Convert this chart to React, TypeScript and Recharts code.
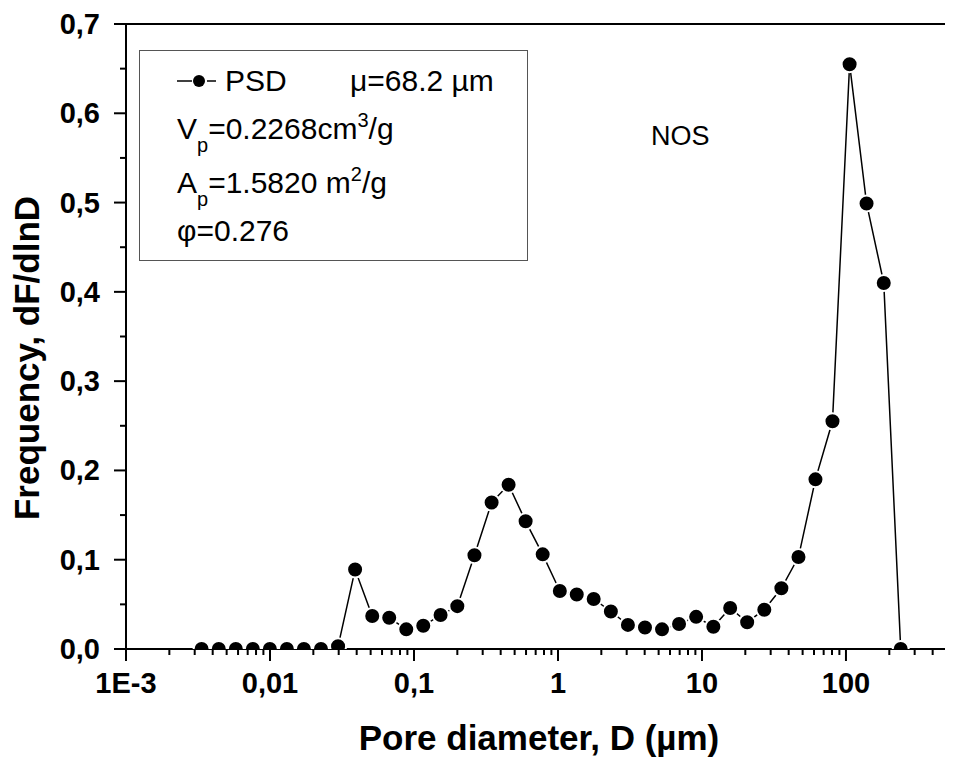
import { LineChart, Line, XAxis, YAxis, ReferenceLine } from "recharts";

const diameters = [
  0.00335, 0.00441, 0.00579, 0.0076, 0.00998, 0.0131, 0.0172, 0.0226, 0.0297, 0.039,
  0.0513, 0.0673, 0.0884, 0.116, 0.153, 0.2, 0.263, 0.346, 0.454, 0.596,
  0.783, 1.03, 1.35, 1.77, 2.33, 3.06, 4.02, 5.28, 6.93, 9.11,
  12.0, 15.7, 20.6, 27.1, 35.6, 46.8, 61.4, 80.6, 106, 139,
  183, 240,
];

const frequency = [
  0, 0, 0, 0, 0, 0, 0, 0, 0.003, 0.089,
  0.037, 0.035, 0.022, 0.026, 0.038, 0.048, 0.105, 0.164, 0.184, 0.143,
  0.106, 0.065, 0.061, 0.056, 0.042, 0.027, 0.024, 0.022, 0.028, 0.036,
  0.025, 0.046, 0.03, 0.044, 0.068, 0.103, 0.19, 0.255, 0.655, 0.499,
  0.41, 0,
];

const xMajorTicks = [0.001, 0.01, 0.1, 1, 10, 100];
const xTickLabels = ["1E-3", "0,01", "0,1", "1", "10", "100"];
const yMajorTicks = [0, 0.1, 0.2, 0.3, 0.4, 0.5, 0.6, 0.7];
const yTickLabels = ["0,0", "0,1", "0,2", "0,3", "0,4", "0,5", "0,6", "0,7"];

const W = 945;
const H = 753;
const X_AXIS_H = 112;
const X_MAX = 545;
const FONT = "'Liberation Sans', Arial, sans-serif";

const data = diameters.map((x, i) => ({ x, y: frequency[i] }));

// major + minor (2..9) ticks per decade
const xTicks: number[] = [];
xMajorTicks.forEach((d) => {
  for (let m = 1; m <= 9; m++) {
    const v = m === 1 ? d : m * d;
    if (v <= X_MAX) xTicks.push(v);
  }
});
const yTicks: number[] = [];
yMajorTicks.forEach((v, i) => {
  yTicks.push(v);
  if (i < yMajorTicks.length - 1) yTicks.push(v + 0.05);
});

function XTick(props: any) {
  const { x, y, payload } = props;
  const idx = xMajorTicks.indexOf(payload.value);
  const major = idx >= 0;
  return (
    <g>
      <line x1={x} x2={x} y1={y} y2={y + (major ? 12 : 6)} stroke="#000" strokeWidth={2} />
      {major && (
        <text x={x} y={y + 44} textAnchor="middle" fontSize={29} fontWeight="bold" fontFamily={FONT} fill="#000">
          {xTickLabels[idx]}
        </text>
      )}
    </g>
  );
}

function YTick(props: any) {
  const { x, y, payload } = props;
  const idx = yMajorTicks.findIndex((v) => Math.abs(v - payload.value) < 1e-6);
  const major = idx >= 0;
  return (
    <g>
      <line x1={x - (major ? 12 : 6)} x2={x} y1={y} y2={y} stroke="#000" strokeWidth={2} />
      {major && (
        <text x={x - 26} y={y + 10} textAnchor="end" fontSize={29} fontWeight="bold" fontFamily={FONT} fill="#000">
          {yTickLabels[idx]}
        </text>
      )}
    </g>
  );
}

// dots are cut at the bottom of the plot frame, like the original
function Dot(props: any) {
  const { cx, cy, index } = props;
  return (
    <g key={`dot-${index}`}>
      {index === 0 && (
        <defs>
          <clipPath id="psdPlotClip">
            <rect x={0} y={0} width={W} height={H - X_AXIS_H} />
          </clipPath>
        </defs>
      )}
      <circle cx={cx} cy={cy} r={8} fill="#000" stroke="#fff" strokeWidth={2} clipPath="url(#psdPlotClip)" />
    </g>
  );
}

export default function App() {
  return (
    <div style={{ position: "relative", width: W, height: H }}>
      <LineChart width={W} height={H} data={data} margin={{ top: 16, right: 1, left: 0, bottom: 0 }}>
        <XAxis
          type="number"
          dataKey="x"
          scale="log"
          domain={[0.001, X_MAX]}
          allowDataOverflow
          ticks={xTicks}
          interval={0}
          height={X_AXIS_H}
          tickSize={0}
          tickMargin={0}
          tickLine={false}
          axisLine={{ stroke: "#000", strokeWidth: 2 }}
          tick={<XTick />}
        />
        <YAxis
          type="number"
          domain={[0, 0.7]}
          allowDataOverflow
          ticks={yTicks}
          interval={0}
          width={118}
          tickSize={0}
          tickMargin={0}
          tickLine={false}
          axisLine={{ stroke: "#000", strokeWidth: 2 }}
          tick={<YTick />}
        />
        <ReferenceLine y={0.7} stroke="#000" strokeWidth={2} />
        <Line
          type="linear"
          dataKey="y"
          stroke="#000"
          strokeWidth={1.5}
          isAnimationActive={false}
          dot={<Dot />}
          activeDot={false}
        />
      </LineChart>
      <svg
        width={W}
        height={H}
        style={{ position: "absolute", left: 0, top: 0, pointerEvents: "none" }}
        fontFamily={FONT}
      >
        <rect x={131.5} y={42.5} width={388} height={210} fill="none" stroke="#555" strokeWidth={1} />
        <line x1={169} x2={184} y1={73} y2={73} stroke="#000" strokeWidth={1.5} />
        <line x1={199} x2={208} y1={73} y2={73} stroke="#000" strokeWidth={1.5} />
        <circle cx={191} cy={73} r={6} fill="#000" />
        <text x={217} y={83} fontSize={30} fill="#000">PSD</text>
        <text x={342} y={83} fontSize={30} fill="#000">μ=68.2 µm</text>
        <text x={169} y={131} fontSize={30} fill="#000">
          V<tspan dy={13} fontSize={20}>p</tspan>
          <tspan dy={-13}>=0.2268cm</tspan>
          <tspan dy={-12} fontSize={20}>3</tspan>
          <tspan dy={12}>/g</tspan>
        </text>
        <text x={169} y={185} fontSize={30} fill="#000">
          A<tspan dy={13} fontSize={20}>p</tspan>
          <tspan dy={-13}>=1.5820 m</tspan>
          <tspan dy={-12} fontSize={20}>2</tspan>
          <tspan dy={12}>/g</tspan>
        </text>
        <text x={169} y={233} fontSize={30} fill="#000">φ=0.276</text>
        <text x={643} y={137} fontSize={27} fill="#000">NOS</text>
        <text x={531} y={742} textAnchor="middle" fontSize={35} fontWeight="bold" fill="#000">
          Pore diameter, D (µm)
        </text>
        <text
          x={0}
          y={0}
          transform="translate(31, 350) rotate(-90)"
          textAnchor="middle"
          fontSize={35}
          fontWeight="bold"
          fill="#000"
        >
          Frequency, dF/dlnD
        </text>
      </svg>
    </div>
  );
}
